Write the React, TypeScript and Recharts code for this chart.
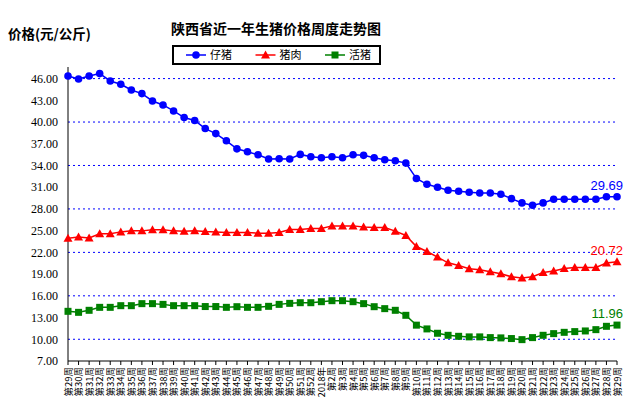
import React from 'react';
import { LineChart, Line, XAxis, YAxis, CartesianGrid } from 'recharts';

// week labels: 2017 wk29 .. 2018 wk29
const WEEKS = [
  '第29周', '第30周', '第31周', '第32周', '第33周', '第34周', '第35周', '第36周',
  '第37周', '第38周', '第39周', '第40周', '第41周', '第42周', '第43周', '第44周',
  '第45周', '第46周', '第47周', '第48周', '第49周', '第50周', '第51周', '第52周',
  '2018年', '第2周', '第3周', '第4周', '第5周', '第6周', '第7周', '第8周', '第9周',
  '第10周', '第11周', '第12周', '第13周', '第14周', '第15周', '第16周', '第17周',
  '第18周', '第19周', '第20周', '第21周', '第22周', '第23周', '第24周', '第25周',
  '第26周', '第27周', '第28周', '第29周',
];

const PIGLET = [
  46.36, 45.94, 46.36, 46.69, 45.67, 45.21, 44.43, 43.93, 42.91, 42.36, 41.53, 40.62,
  40.22, 39.1, 38.4, 37.41, 36.3, 35.89, 35.48, 34.89, 34.93, 34.89, 35.53, 35.2,
  35.07, 35.2, 35.07, 35.48, 35.4, 35.07, 34.79, 34.65, 34.33, 32.2, 31.4, 30.99,
  30.58, 30.44, 30.3, 30.2, 30.2, 30.02, 29.42, 28.83, 28.51, 28.83, 29.34, 29.34,
  29.34, 29.34, 29.34, 29.69, 29.69,
];

const PORK = [
  23.96, 24.14, 24.0, 24.56, 24.56, 24.83, 24.97, 24.97, 25.11, 25.11, 24.97, 24.93,
  24.97, 24.87, 24.83, 24.74, 24.74, 24.74, 24.65, 24.65, 24.74, 25.15, 25.15, 25.29,
  25.29, 25.66, 25.66, 25.66, 25.52, 25.43, 25.43, 24.93, 24.33, 22.81, 22.12, 21.35,
  20.56, 20.19, 19.74, 19.6, 19.32, 19.05, 18.63, 18.46, 18.63, 19.23, 19.42, 19.78,
  19.92, 19.92, 19.92, 20.52, 20.72,
];

const HOG = [
  13.86, 13.72, 14.0, 14.41, 14.41, 14.64, 14.64, 14.92, 14.92, 14.82, 14.64, 14.64,
  14.64, 14.52, 14.52, 14.41, 14.5, 14.41, 14.41, 14.55, 14.82, 14.96, 15.05, 15.05,
  15.19, 15.33, 15.33, 15.19, 14.92, 14.5, 14.23, 14.0, 13.31, 11.95, 11.43, 10.83,
  10.55, 10.41, 10.33, 10.33, 10.23, 10.19, 10.1, 9.95, 10.23, 10.55, 10.78, 10.96,
  11.06, 11.15, 11.33, 11.79, 11.96,
];

const Y_TICKS = [7, 10, 13, 16, 19, 22, 25, 28, 31, 34, 37, 40, 43, 46];

const SERIES = [
  { key: 'piglet', name: '仔猪', color: '#0000FF', shape: 'circle' },
  { key: 'pork', name: '猪肉', color: '#FF0000', shape: 'triangle' },
  { key: 'hog', name: '活猪', color: '#008000', shape: 'square' },
];

const data = WEEKS.map((week, i) => ({ week, piglet: PIGLET[i], pork: PORK[i], hog: HOG[i] }));
const LAST = WEEKS.length - 1;
const CJK = '"Noto Sans CJK SC", "Noto Sans", sans-serif';

const Marker = ({ shape, cx, cy, color }: any) => {
  if (shape === 'triangle') {
    return <polygon points={`${cx},${cy - 4.5} ${cx + 4.5},${cy + 3.5} ${cx - 4.5},${cy + 3.5}`} fill={color} />;
  }
  if (shape === 'square') {
    return <rect x={cx - 3.5} y={cy - 3.5} width={7} height={7} fill={color} />;
  }
  return <circle cx={cx} cy={cy} r={3.8} fill={color} />;
};

const makeDot = (s: any) => (props: any) => {
  const { cx, cy, index, payload } = props;
  return (
    <g key={`${s.key}-${index}`}>
      <Marker shape={s.shape} cx={cx} cy={cy} color={s.color} />
      {index === LAST && (
        <text x={cx + 6} y={cy - 7} textAnchor="end" fontSize={13} fill={s.color}
          fontFamily="Liberation Sans, Arial, sans-serif">
          {payload[s.key].toFixed(2)}
        </text>
      )}
    </g>
  );
};

const WeekTick = ({ x, y, payload }: any) => (
  <text transform={`translate(${x + 3.5},${y}) rotate(-90)`} textAnchor="end"
    fontSize={9.5} fill="#000" fontFamily={CJK}>
    {payload.value}
  </text>
);

// boxed legend above the plot
const ChartLegend = () => (
  <div style={{
    position: 'absolute', left: 172, top: 45, width: 205, height: 16, zIndex: 5,
    border: '2px solid #000', background: '#fff',
  }}>
    <svg width={205} height={16} style={{ display: 'block' }}>
      {SERIES.map((s, i) => {
        const x0 = 12 + i * 69.5;
        return (
          <g key={s.key}>
            <line x1={x0} y1={8} x2={x0 + 20} y2={8} stroke={s.color} strokeWidth={1.5} />
            <Marker shape={s.shape} cx={x0 + 10} cy={8} color={s.color} />
            <text x={x0 + 24} y={12} fontSize={11} fontFamily={CJK} fill="#000">{s.name}</text>
          </g>
        );
      })}
    </svg>
  </div>
);

const App: React.FC = () => {
  return (
    <div style={{ position: 'absolute', left: 0, top: 0, width: 632, height: 410, background: '#fff' }}>
      <LineChart width={632} height={410} data={data}
        margin={{ top: 67, right: 15, bottom: 0, left: 8 }}>
        <CartesianGrid vertical={false} stroke="#0000FF" strokeDasharray="2 3"
          horizontalValues={Y_TICKS.slice(1)} />
        <XAxis dataKey="week" interval={0} height={49} tickSize={4}
          axisLine={{ stroke: '#000' }} tickLine={{ stroke: '#000' }} tick={<WeekTick />} />
        <YAxis domain={[7, 47.6]} ticks={Y_TICKS} width={60} tickLine={false} tickSize={0}
          tickMargin={10} axisLine={{ stroke: '#000' }} allowDataOverflow
          tickFormatter={(v: number) => v.toFixed(2)}
          tick={{ fontSize: 12, fill: '#000', fontFamily: 'Liberation Serif, serif' }} />
        {SERIES.map((s) => (
          <Line key={s.key} dataKey={s.key} name={s.name} stroke={s.color} strokeWidth={1.5}
            dot={makeDot(s)} activeDot={false} isAnimationActive={false} />
        ))}
      </LineChart>
      <div style={{
        position: 'absolute', left: 136, top: 19, width: 280, textAlign: 'center',
        fontFamily: CJK, fontWeight: 'bold', fontSize: 14, lineHeight: '18px', whiteSpace: 'nowrap',
      }}>
        陕西省近一年生猪价格周度走势图
      </div>
      <div style={{
        position: 'absolute', left: 8, top: 24, fontFamily: CJK, fontWeight: 'bold',
        fontSize: 13.5, lineHeight: '18px', whiteSpace: 'nowrap',
      }}>
        价格(元/公斤)
      </div>
      <ChartLegend />
    </div>
  );
};

export default App;
